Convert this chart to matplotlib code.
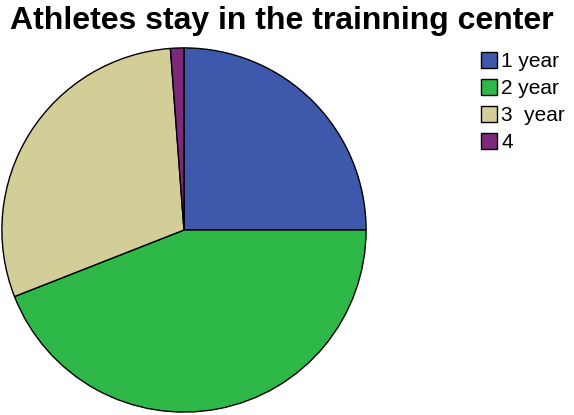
import matplotlib.pyplot as plt
from matplotlib.patches import Patch

plt.rcParams['font.family'] = ['Liberation Sans', 'DejaVu Sans']

# years spent at the training center (number of athletes)
labels = ["1 year", "2 year", "3  year", "4"]
counts = [21, 37, 25, 1]
colors = ["#3E58AC", "#2EB848", "#D3CE97", "#7C287D"]

W, H = 574, 415
fig = plt.figure(figsize=(W / 100, H / 100), dpi=100)

# pie centred at (184, 230) px, radius 183 px
cx, cy, r = 184, 230, 183
ax = fig.add_axes([(cx - r) / W, (H - cy - r) / H, 2 * r / W, 2 * r / H])
ax.pie(counts, colors=colors, startangle=90, counterclock=False,
       wedgeprops=dict(edgecolor="black", linewidth=1.0), radius=1.0)
ax.set_xlim(-1.005, 1.005)
ax.set_ylim(-1.005, 1.005)
ax.set_aspect("equal")

fig.text(282 / W, 1 - 21 / H, "Athletes stay in the trainning center",
         ha="center", va="center", fontsize=23, fontweight="bold")

handles = [Patch(facecolor=c, edgecolor="black", linewidth=1.0) for c in colors]
fig.legend(handles, labels, loc="upper left", bbox_to_anchor=(481 / W, 1 - 52 / H),
           frameon=False, fontsize=15, handlelength=0.78, handleheight=0.78,
           handletextpad=0.2, labelspacing=0.38, borderpad=0, borderaxespad=0)

fig.savefig("out.png", dpi=100)
